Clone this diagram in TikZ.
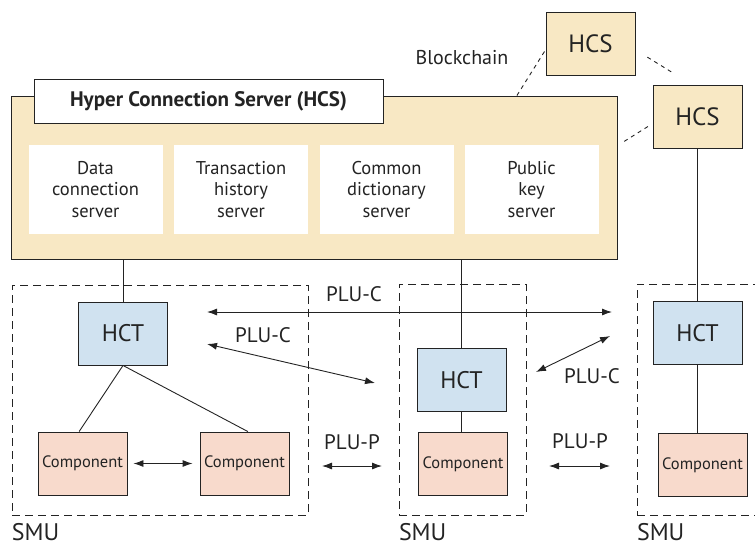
\documentclass[tikz,border=0pt]{standalone}
\usepackage{fontspec}
\setmainfont{PT Sans}
\usetikzlibrary{arrows.meta}
\definecolor{ink}{RGB}{35,35,35}
\definecolor{hcstan}{RGB}{248,232,196}
\definecolor{hctblue}{RGB}{208,226,240}
\definecolor{comppink}{RGB}{248,218,204}

\begin{document}
\begin{tikzpicture}[x=1pt, y=-1pt, color=ink, line width=0.9pt,
    unit/.style={draw, inner sep=0, minimum width=89pt, minimum height=63pt},
    hcsbox/.style={unit, fill=hcstan, font=\fontsize{25}{28}\selectfont},
    hctbox/.style={unit, fill=hctblue, font=\fontsize{24}{28}\selectfont},
    compbox/.style={unit, fill=comppink, font=\fontsize{16.5}{18}\selectfont},
    srvbox/.style={fill=white, inner sep=0, minimum width=134pt, minimum height=89pt, align=center, font=\fontsize{18.5}{21.5}\selectfont},
    smubox/.style={draw, dash pattern=on 8pt off 5pt, inner sep=0},
    lbl/.style={inner sep=0, font=\fontsize{21}{24}\selectfont},
    smulbl/.style={inner sep=0, anchor=base west, yshift=-25pt, font=\fontsize{24}{28}\selectfont},
    plu/.style={{Latex[length=10pt,width=7pt]}-{Latex[length=10pt,width=7pt]}},
    chain/.style={dash pattern=on 4pt off 4pt}]
    \useasboundingbox (0,0) rectangle (755,547);

    % server block
    \node[draw, fill=hcstan, inner sep=0, minimum width=606pt, minimum height=163pt] (hcsmain) at (314,177.5) {};
    \node[draw, fill=white, inner sep=0, minimum width=349pt, minimum height=44pt, font=\fontsize{21}{24}\selectfont\bfseries] (title) at (208.5,101) {Hyper Connection Server (HCS)};
    \node[srvbox] (datasrv) at (95.5,189.5) {Data\\connection\\server};
    \node[srvbox] (txsrv) at (241,189.5) {Transaction\\history\\server};
    \node[srvbox] (dictsrv) at (386.5,189.5) {Common\\dictionary\\server};
    \node[srvbox] (keysrv) at (531.5,189.5) {Public\\key\\server};

    \node[hcsbox] (hcs1) at (590.5,43.5) {HCS};
    \node[hcsbox] (hcs2) at (697.5,116.5) {HCS};
    \node[lbl, font=\fontsize{20}{24}\selectfont] (chainlbl) at (462,57.5) {Blockchain};
    \draw[chain] (hcsmain.22.5) -- (hcs1.188);
    \draw[chain, shorten <=14pt, shorten >=22pt] (hcs1.-8) -- (hcs2.100);
    \draw[chain, shorten <=8pt, shorten >=5pt] (hcsmain.6.8) -- (hcs2.189);

    % SMUs
    \node[smubox, minimum width=296pt, minimum height=230pt] (smu1) at (160,400) {};
    \node[smubox, minimum width=127pt, minimum height=231pt] (smu2) at (462.5,399.5) {};
    \node[smubox, minimum width=200pt, minimum height=231pt] (smu3) at (737,399.5) {};
    \node[smulbl] (smu1lbl) at (smu1.south west) {SMU};
    \node[smulbl] (smu2lbl) at (smu2.south west) {SMU};
    \node[smulbl] (smu3lbl) at (smu3.south west) {SMU};

    \node[hctbox] (hct1) at (123,333.5) {HCT};
    \node[hctbox] (hct2) at (461.5,380) {HCT};
    \node[hctbox] (hct3) at (697.5,333) {HCT};
    \node[compbox] (compa) at (82.5,463.5) {Component};
    \node[compbox] (compb) at (244.5,463.5) {Component};
    \node[compbox] (compm) at (463,464) {Component};
    \node[compbox] (compr) at (702.5,465) {Component};

    \draw (hct1.north |- hcsmain.south) -- (hct1.north);
    \draw (hct2.north |- hcsmain.south) -- (hct2.north);
    \draw (hcs2.south) -- (hct3.north);
    \draw (hct1.south) -- (compa.96);
    \draw (hct1.south) -- (compb.84);
    \draw (hct2.south) -- (hct2.south |- compm.north);
    \draw (hct3.south) -- (hct3.south |- compr.north);

    % PLU links
    \coordinate (c1a) at (207,312);
    \coordinate (c1b) at (612,312);
    \coordinate (c2a) at (207,344);
    \coordinate (c2b) at (375,383);
    \coordinate (c3a) at (536,372);
    \coordinate (c3b) at (610,336);
    \coordinate (p1a) at (322,466);
    \coordinate (p1b) at (382,466);
    \coordinate (p2a) at (549,466);
    \coordinate (p2b) at (610,466);
    \draw[plu] (c1a) -- (c1b);
    \draw[plu] (c2a) -- (c2b);
    \draw[plu] (c3a) -- (c3b);
    \draw[plu, shorten <=6pt, shorten >=7pt] (compa.east) -- (compb.west);
    \draw[plu] (p1a) -- (p1b);
    \draw[plu] (p2a) -- (p2b);
    \node[lbl] (plucl) at (354,294) {PLU-C};
    \node[lbl] (plucm) at (263,335) {PLU-C};
    \node[lbl] (plucr) at (592,376) {PLU-C};
    \node[lbl] (plupl) at (352,442) {PLU-P};
    \node[lbl] (plupr) at (580,441) {PLU-P};
\end{tikzpicture}
\end{document}
